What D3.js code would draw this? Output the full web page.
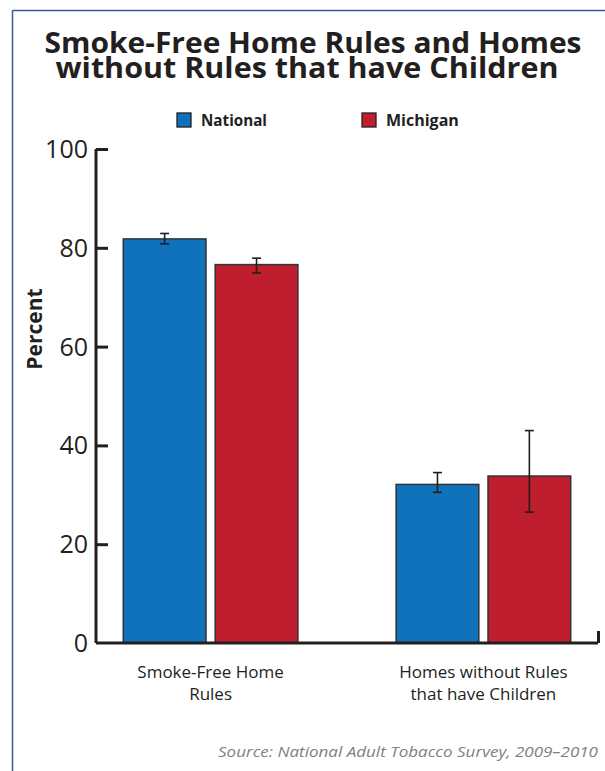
<!DOCTYPE html>
<html>
<head>
<meta charset="utf-8">
<script src="https://cdn.jsdelivr.net/npm/d3@7"></script>
<style>
  body { margin: 0; background: #fff; }
  svg text { font-family: "Open Sans", "DejaVu Sans", sans-serif; fill: #231f20; }
</style>
</head>
<body>
<div id="chart"></div>
<script>
// Data
var categories = ["Smoke-Free Home Rules", "Homes without Rules that have Children"];
var categoryLines = [["Smoke-Free Home", "Rules"], ["Homes without Rules", "that have Children"]];
var seriesNames = ["National", "Michigan"];
var nationalValues = [81.8, 32.1];
var michiganValues = [76.6, 33.8];
var nationalLow = [80.8, 30.5];
var nationalHigh = [82.9, 34.5];
var michiganLow = [74.9, 26.5];
var michiganHigh = [77.9, 43.0];
var yTicks = [0, 20, 40, 60, 80, 100];

var svgWidth = 605;
var svgHeight = 771;

var colors = { National: "#1072ba", Michigan: "#be1e2d" };
var ink = "#231f20";

var svg = d3.select("#chart")
    .append("svg")
    .attr("width", svgWidth)
    .attr("height", svgHeight);

// frame lines (top and left)
svg.append("line")
    .attr("x1", 12.5).attr("y1", 10.5).attr("x2", svgWidth).attr("y2", 10.5)
    .attr("stroke", "#3a55a8").attr("stroke-width", 1.5);
svg.append("line")
    .attr("x1", 12.5).attr("y1", 10.5).attr("x2", 12.5).attr("y2", svgHeight)
    .attr("stroke", "#3a55a8").attr("stroke-width", 1.5);

// squeeze text to the width it has in the picture
function fitText(sel, w) {
    sel.each(function() {
        var len = this.getComputedTextLength();
        if (Math.abs(len - w) > 1) {
            d3.select(this).attr("textLength", w).attr("lengthAdjust", "spacingAndGlyphs");
        }
    });
}

// Title (one text, two lines)
var titleLines = ["Smoke-Free Home Rules and Homes", "without Rules that have Children"];
var titleWidths = [537, 503];
var titleX = [313, 307];
var title = svg.append("text")
    .attr("text-anchor", "middle")
    .style("font-size", "29px").style("font-weight", "bold");
title.selectAll("tspan")
    .data(titleLines)
    .enter()
    .append("tspan")
    .attr("x", (d, i) => titleX[i])
    .attr("y", (d, i) => 53 + i * 25)
    .text(d => d)
    .each(function(d, i) {
        d3.select(this).call(fitText, titleWidths[i]);
    });

// Scales
var x0 = d3.scaleBand()
    .domain(categories)
    .range([96, 598])
    .paddingInner(0.36)
    .paddingOuter(0.1);

var x1 = d3.scaleBand()
    .domain(seriesNames)
    .range([0, x0.bandwidth()])
    .paddingInner(0.1);

var y = d3.scaleLinear()
    .domain([0, 100])
    .range([643, 149]);

var rows = categories.map(function(c, i) {
    return {
        category: c,
        values: [
            { name: "National", value: nationalValues[i], lo: nationalLow[i], hi: nationalHigh[i] },
            { name: "Michigan", value: michiganValues[i], lo: michiganLow[i], hi: michiganHigh[i] }
        ]
    };
});

// Bars
var groups = svg.selectAll("g.group")
    .data(rows)
    .enter()
    .append("g")
    .attr("class", "group")
    .attr("transform", d => `translate(${x0(d.category)},0)`);

groups.selectAll("rect")
    .data(d => d.values)
    .enter()
    .append("rect")
    .attr("x", d => x1(d.name))
    .attr("y", d => y(d.value))
    .attr("width", x1.bandwidth())
    .attr("height", d => y(0) - y(d.value))
    .attr("fill", d => colors[d.name])
    .attr("stroke", "#333")
    .attr("stroke-width", 1.5);

// Error bars
var err = groups.selectAll("g.err")
    .data(d => d.values)
    .enter()
    .append("g")
    .attr("class", "err")
    .attr("stroke", ink)
    .attr("stroke-width", 1.6);

err.append("line")
    .attr("x1", d => x1(d.name) + x1.bandwidth() / 2)
    .attr("x2", d => x1(d.name) + x1.bandwidth() / 2)
    .attr("y1", d => y(d.lo))
    .attr("y2", d => y(d.hi));
err.append("line")
    .attr("x1", d => x1(d.name) + x1.bandwidth() / 2 - 4.5)
    .attr("x2", d => x1(d.name) + x1.bandwidth() / 2 + 4.5)
    .attr("y1", d => y(d.lo))
    .attr("y2", d => y(d.lo));
err.append("line")
    .attr("x1", d => x1(d.name) + x1.bandwidth() / 2 - 4.5)
    .attr("x2", d => x1(d.name) + x1.bandwidth() / 2 + 4.5)
    .attr("y1", d => y(d.hi))
    .attr("y2", d => y(d.hi));

// Y axis (ticks point inward)
var leftAxis = d3.axisRight(y)
    .tickValues(yTicks)
    .tickSize(12)
    .tickFormat("");

var yAxis = svg.append("g")
    .attr("transform", "translate(96,0)")
    .call(leftAxis);
yAxis.select(".domain")
    .attr("d", `M0,${y(100)}V${y(0)}`)
    .attr("stroke", ink).attr("stroke-width", 3);
yAxis.selectAll(".tick line").attr("stroke", ink).attr("stroke-width", 3);
yAxis.selectAll(".tick").filter(d => d === 0).select("line").remove();

svg.append("g")
    .selectAll("text")
    .data(yTicks)
    .enter()
    .append("text")
    .attr("x", 88)
    .attr("y", d => y(d))
    .attr("dy", "0.36em")
    .attr("text-anchor", "end")
    .style("font-size", "25px")
    .text(d => d);

// X axis with the closing tick on the right
var bottomAxis = d3.axisTop(d3.scaleLinear().domain([0, 1]).range([96, 598]))
    .tickValues([1])
    .tickSize(12)
    .tickFormat("");
var xAxis = svg.append("g")
    .attr("transform", `translate(0,${y(0)})`)
    .call(bottomAxis);
xAxis.select(".domain")
    .attr("d", "M96,0H598")
    .attr("stroke", ink).attr("stroke-width", 3);
xAxis.selectAll(".tick line").attr("stroke", ink).attr("stroke-width", 3);

// Category labels
var catLabels = svg.selectAll("text.cat")
    .data(rows)
    .enter()
    .append("text")
    .attr("class", "cat")
    .attr("text-anchor", "middle")
    .style("font-size", "17px");
catLabels.each(function(d, i) {
    var cx = x0(d.category) + x0.bandwidth() / 2;
    d3.select(this).selectAll("tspan")
        .data(categoryLines[i])
        .enter()
        .append("tspan")
        .attr("x", cx)
        .attr("y", (t, j) => 678 + j * 22)
        .text(t => t);
});

// Y axis title
svg.append("text")
    .attr("transform", "translate(42,329) rotate(-90)")
    .attr("text-anchor", "middle")
    .style("font-size", "21px").style("font-weight", "bold")
    .text("Percent");

// Legend
var legendX = { National: 177, Michigan: 362 };
var legend = svg.selectAll("g.legend")
    .data(seriesNames)
    .enter()
    .append("g")
    .attr("class", "legend")
    .attr("transform", d => `translate(${legendX[d]},113)`);
legend.append("rect")
    .attr("width", 14).attr("height", 14)
    .attr("fill", d => colors[d])
    .attr("stroke", ink).attr("stroke-width", 1.3);
legend.append("text")
    .attr("x", 24).attr("y", 13)
    .style("font-size", "16px").style("font-weight", "bold")
    .text(d => d)
    .each(function(d) {
        d3.select(this).call(fitText, d === "National" ? 66 : 73);
    });

// Source
svg.append("text")
    .attr("x", 598).attr("y", 757)
    .attr("text-anchor", "end")
    .style("font-size", "15px").style("font-style", "italic")
    .style("fill", "#808080")
    .text("Source: National Adult Tobacco Survey, 2009\u20132010")
    .call(fitText, 380);
</script>
</body>
</html>
